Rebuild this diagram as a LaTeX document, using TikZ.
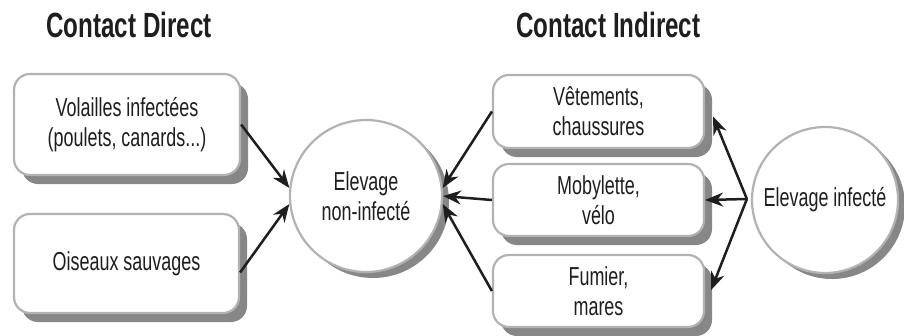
\documentclass[tikz,border=0pt]{standalone}
\usepackage{fontspec}
\setmainfont{Liberation Sans}[FakeStretch=0.69]
\usetikzlibrary{arrows.meta,shadows,calc}
\definecolor{boxgray}{RGB}{178,178,178}
\definecolor{shadegray}{RGB}{135,135,135}
\definecolor{inkgray}{RGB}{30,30,30}

\tikzset{
  card/.style={draw=boxgray, line width=2.2pt, fill=white, rounded corners=16pt,
    align=center, inner sep=0pt, text=inkgray, font=\fontsize{26}{30}\selectfont,
    drop shadow={shadow xshift=8pt, shadow yshift=-9pt, fill=shadegray, opacity=1}},
  farm/.style={circle, draw=boxgray, line width=2.2pt, fill=white,
    align=center, inner sep=0pt, text=inkgray, font=\fontsize{26}{30}\selectfont,
    drop shadow={shadow xshift=7pt, shadow yshift=-6pt, fill=shadegray, opacity=1}},
  link/.style={line width=2.5pt, draw=inkgray, -{Stealth[length=18pt,width=14pt]}},
  title/.style={anchor=base west, text=inkgray, font=\bfseries\fontsize{35}{38}\selectfont}
}

\begin{document}
\begin{tikzpicture}[x=1pt,y=-1pt]
\useasboundingbox (0,0) rectangle (904,335);

% Titles
\node[title] (tdirect) at (43,37) {Contact Direct};
\node[title] (tindirect) at (513,37) {Contact Indirect};

% Direct sources
\node[card, minimum width=226pt, minimum height=101pt] (vol) at (127,124.5) {Volailles infectées\\(poulets, canards...)};
\node[card, minimum width=225pt, minimum height=99pt] (ois) at (126.5,263.5) {Oiseaux sauvages};

% Target farm
\node[farm, minimum size=152pt] (noninf) at (366,196) {Elevage\\non-infecté};

% Indirect vectors
\node[card, minimum width=211pt, minimum height=73pt] (vet) at (598.5,111.5) {Vêtements,\\chaussures};
\node[card, minimum width=211pt, minimum height=72pt] (mob) at (598.5,200) {Mobylette,\\vélo};
\node[card, minimum width=211pt, minimum height=72pt] (fum) at (598.5,291) {Fumier,\\mares};

% Source farm
\node[farm, minimum size=146pt] (inf) at (825,200) {Elevage infecté};
\coordinate (split) at ($(inf.west)+(-4,-1)$);

% Connections
\draw[link] (vol.east) -- (noninf.174);
\draw[link] ($(ois.east)+(0,9)$) -- (noninf.186);
\draw[link] (vet.west) -- (noninf.6);
\draw[link] (mob.west) -- (noninf.0);
\draw[link] (fum.west) -- (noninf.354);
\draw[link] (split) -- ($(vet.east)+(8,5)$);
\draw[link] (split) -- (mob.east);
\draw[link] (split) -- ($(fum.east)+(6,-1)$);
\end{tikzpicture}
\end{document}
